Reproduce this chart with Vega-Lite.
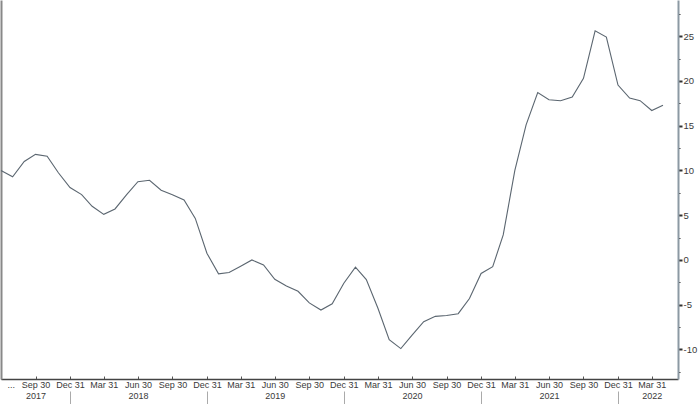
{
  "$schema": "https://vega.github.io/schema/vega-lite/v6.json",
  "width": 677,
  "height": 379,
  "autosize": {"type": "none"},
  "padding": {"left": 1, "top": 0, "right": 22, "bottom": 25},
  "background": "white",
  "config": {
    "view": {"stroke": null},
    "axis": {"labelFont": "Liberation Sans", "labelFontSize": 9, "labelColor": "#3a3a3a", "grid": false, "title": null}
  },
  "data": {
    "values": [
      {"date": "2017-06-30", "value": 10.0},
      {"date": "2017-07-31", "value": 9.3},
      {"date": "2017-08-31", "value": 11.0},
      {"date": "2017-09-30", "value": 11.8},
      {"date": "2017-10-31", "value": 11.6},
      {"date": "2017-11-30", "value": 9.75},
      {"date": "2017-12-31", "value": 8.1},
      {"date": "2018-01-31", "value": 7.3},
      {"date": "2018-02-28", "value": 6.0},
      {"date": "2018-03-31", "value": 5.1},
      {"date": "2018-04-30", "value": 5.7},
      {"date": "2018-05-31", "value": 7.3},
      {"date": "2018-06-30", "value": 8.75},
      {"date": "2018-07-31", "value": 8.9},
      {"date": "2018-08-31", "value": 7.8},
      {"date": "2018-09-30", "value": 7.3},
      {"date": "2018-10-31", "value": 6.7},
      {"date": "2018-11-30", "value": 4.65},
      {"date": "2018-12-31", "value": 0.75},
      {"date": "2019-01-31", "value": -1.55},
      {"date": "2019-02-28", "value": -1.4},
      {"date": "2019-03-31", "value": -0.7},
      {"date": "2019-04-30", "value": 0.0},
      {"date": "2019-05-31", "value": -0.56},
      {"date": "2019-06-30", "value": -2.16},
      {"date": "2019-07-31", "value": -2.9},
      {"date": "2019-08-31", "value": -3.5},
      {"date": "2019-09-30", "value": -4.8},
      {"date": "2019-10-31", "value": -5.6},
      {"date": "2019-11-30", "value": -4.9},
      {"date": "2019-12-31", "value": -2.6},
      {"date": "2020-01-31", "value": -0.8},
      {"date": "2020-02-29", "value": -2.2},
      {"date": "2020-03-31", "value": -5.4},
      {"date": "2020-04-30", "value": -8.9},
      {"date": "2020-05-31", "value": -9.9},
      {"date": "2020-06-30", "value": -8.4},
      {"date": "2020-07-31", "value": -6.9},
      {"date": "2020-08-31", "value": -6.3},
      {"date": "2020-09-30", "value": -6.2},
      {"date": "2020-10-31", "value": -6.0},
      {"date": "2020-11-30", "value": -4.3},
      {"date": "2020-12-31", "value": -1.5},
      {"date": "2021-01-31", "value": -0.75},
      {"date": "2021-02-28", "value": 2.8},
      {"date": "2021-03-31", "value": 10.0},
      {"date": "2021-04-30", "value": 15.1},
      {"date": "2021-05-31", "value": 18.7},
      {"date": "2021-06-30", "value": 17.9},
      {"date": "2021-07-31", "value": 17.8},
      {"date": "2021-08-31", "value": 18.2},
      {"date": "2021-09-30", "value": 20.3},
      {"date": "2021-10-31", "value": 25.6},
      {"date": "2021-11-30", "value": 24.9},
      {"date": "2021-12-31", "value": 19.55},
      {"date": "2022-01-31", "value": 18.1},
      {"date": "2022-02-28", "value": 17.8},
      {"date": "2022-03-31", "value": 16.7},
      {"date": "2022-04-30", "value": 17.3}
    ]
  },
  "resolve": {"axis": {"x": "independent", "y": "independent"}},
  "layer": [
    {
      "mark": {"type": "line", "color": "#5b6670", "strokeWidth": 1.1},
      "encoding": {
        "x": {
          "field": "date",
          "type": "temporal",
          "scale": {
            "type": "utc",
            "domain": [
              {"year": 2017, "month": 6, "date": 30, "utc": true},
              {"year": 2022, "month": 6, "date": 9, "utc": true}
            ]
          },
          "axis": {
            "orient": "bottom",
            "values": [
              {"year": 2017, "month": 6, "date": 30, "utc": true},
              {"year": 2017, "month": 9, "date": 30, "utc": true},
              {"year": 2017, "month": 12, "date": 31, "utc": true},
              {"year": 2018, "month": 3, "date": 31, "utc": true},
              {"year": 2018, "month": 6, "date": 30, "utc": true},
              {"year": 2018, "month": 9, "date": 30, "utc": true},
              {"year": 2018, "month": 12, "date": 31, "utc": true},
              {"year": 2019, "month": 3, "date": 31, "utc": true},
              {"year": 2019, "month": 6, "date": 30, "utc": true},
              {"year": 2019, "month": 9, "date": 30, "utc": true},
              {"year": 2019, "month": 12, "date": 31, "utc": true},
              {"year": 2020, "month": 3, "date": 31, "utc": true},
              {"year": 2020, "month": 6, "date": 30, "utc": true},
              {"year": 2020, "month": 9, "date": 30, "utc": true},
              {"year": 2020, "month": 12, "date": 31, "utc": true},
              {"year": 2021, "month": 3, "date": 31, "utc": true},
              {"year": 2021, "month": 6, "date": 30, "utc": true},
              {"year": 2021, "month": 9, "date": 30, "utc": true},
              {"year": 2021, "month": 12, "date": 31, "utc": true},
              {"year": 2022, "month": 3, "date": 31, "utc": true}
            ],
            "labelExpr": "utcyear(datum.value)==2017 && utcmonth(datum.value)==5 ? '...' : ((utcyear(datum.value)==2017 && utcmonth(datum.value)==8) || (utcyear(datum.value)>=2018 && utcyear(datum.value)<=2021 && utcmonth(datum.value)==5) || (utcyear(datum.value)==2022 && utcmonth(datum.value)==2)) ? [utcFormat(datum.value,'%b %d'), utcFormat(datum.value,'%Y')] : utcFormat(datum.value,'%b %d')",
            "labelFlush": false,
            "labelOverlap": false,
            "labelAlign": {"condition": {"test": "utcyear(datum.value)==2017 && utcmonth(datum.value)==5", "value": "left"}, "value": "center"},
            "labelOffset": {"condition": {"test": "utcyear(datum.value)==2017 && utcmonth(datum.value)==5", "value": 6}, "value": 0},
            "labelLineHeight": 11,
            "labelPadding": 4,
            "domainColor": "#444",
            "domainWidth": 1.5,
            "tickSize": -3,
            "tickColor": "#555",
            "tickWidth": 1
          }
        },
        "y": {
          "field": "value",
          "type": "quantitative",
          "scale": {"domain": [-13.3, 29.05], "nice": false, "zero": false},
          "axis": {
            "orient": "right",
            "values": [-12.5, -10, -7.5, -5, -2.5, 0, 2.5, 5, 7.5, 10, 12.5, 15, 17.5, 20, 22.5, 25, 27.5],
            "labelExpr": "datum.value % 5 == 0 ? '' + datum.value : ''",
            "labelOverlap": false,
            "labelPadding": 1,
            "labelFontSize": 9.5,
            "domainColor": "#8c99a3",
            "domainWidth": 2,
            "tickColor": "#333",
            "tickSize": {"condition": {"test": "datum.value % 5 != 0", "value": 2}, "value": 4},
            "tickWidth": {"condition": {"test": "datum.value % 5 != 0", "value": 1}, "value": 2}
          }
        }
      }
    },
    {
      "mark": {"type": "line", "strokeOpacity": 0},
      "encoding": {
        "x": {
          "field": "date",
          "type": "temporal",
          "axis": {
            "orient": "bottom",
            "offset": 12,
            "values": [
              {"year": 2017, "month": 12, "date": 31, "utc": true},
              {"year": 2018, "month": 12, "date": 31, "utc": true},
              {"year": 2019, "month": 12, "date": 31, "utc": true},
              {"year": 2020, "month": 12, "date": 31, "utc": true},
              {"year": 2021, "month": 12, "date": 31, "utc": true}
            ],
            "labels": false,
            "domain": false,
            "tickSize": 14,
            "tickColor": "#aaa",
            "tickWidth": 1
          }
        },
        "y": {
          "field": "value",
          "type": "quantitative",
          "axis": {"orient": "left", "labels": false, "ticks": false, "domain": true, "domainColor": "#888", "domainWidth": 2}
        }
      }
    }
  ]
}
